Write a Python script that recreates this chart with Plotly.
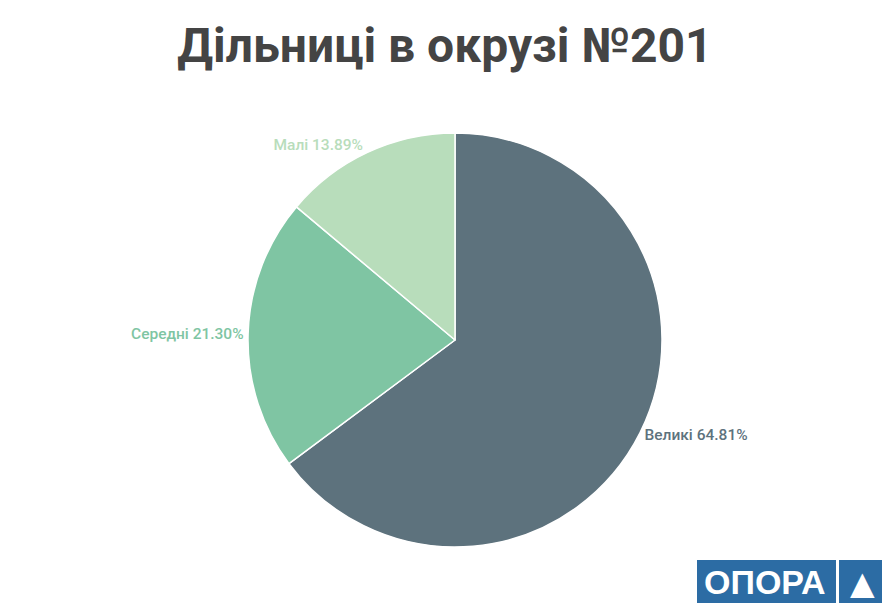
import plotly.graph_objects as go

# Polling stations in district 201 by size
labels = ['Великі', 'Середні', 'Малі']
counts = [70, 23, 15]
colors = ['#5d727d', '#7fc5a3', '#b8ddbb']

W, H = 882, 604

fig = go.Figure()

fig.add_trace(go.Pie(
    labels=labels,
    values=counts,
    sort=False,
    direction='clockwise',
    rotation=0,
    marker=dict(colors=colors, line=dict(color='white', width=1.5)),
    textposition='outside',
    texttemplate='%{label} %{percent:.2%}',
    textfont=dict(family='Roboto', size=15.5, weight=500, color=colors),
    hoverinfo='label+value+percent',
    showlegend=False,
    domain=dict(x=[248 / W, 662 / W], y=[57 / H, 471 / H]),
))

# --- OPORA logo (bottom right) ---
logo_blue = '#2c6ca4'
fig.add_shape(type='rect', xref='paper', yref='paper', layer='below',
              x0=697 / W, x1=836 / W, y0=(H - 603) / H, y1=(H - 560) / H,
              fillcolor=logo_blue, line_width=0)
fig.add_shape(type='rect', xref='paper', yref='paper', layer='below',
              x0=839 / W, x1=882 / W, y0=(H - 603) / H, y1=(H - 560) / H,
              fillcolor=logo_blue, line_width=0)
fig.add_annotation(text='<b>ОПОРА</b>', xref='paper', yref='paper',
                   x=765 / W, y=(H - 582) / H, xanchor='center', yanchor='middle',
                   showarrow=False,
                   font=dict(family='Liberation Sans', size=34, color='white'))
fig.add_annotation(text='▲', xref='paper', yref='paper',
                   x=862.5 / W, y=(H - 583) / H, xanchor='center', yanchor='middle',
                   showarrow=False,
                   font=dict(family='DejaVu Sans', size=32, color='white'))

fig.update_layout(
    width=W, height=H,
    margin=dict(l=0, r=0, t=0, b=0),
    paper_bgcolor='white',
    plot_bgcolor='white',
    title=dict(text='<b>Дільниці в окрузі №201</b>',
               x=445 / W, xanchor='center',
               y=1 - 45 / H, yanchor='middle',
               font=dict(family='Roboto', size=48, color='#444444')),
)

# drop the default page margin so the figure fills the window exactly
fig.write_html('out.html', config={'displayModeBar': False},
               post_script="document.body.style.margin='0';")
